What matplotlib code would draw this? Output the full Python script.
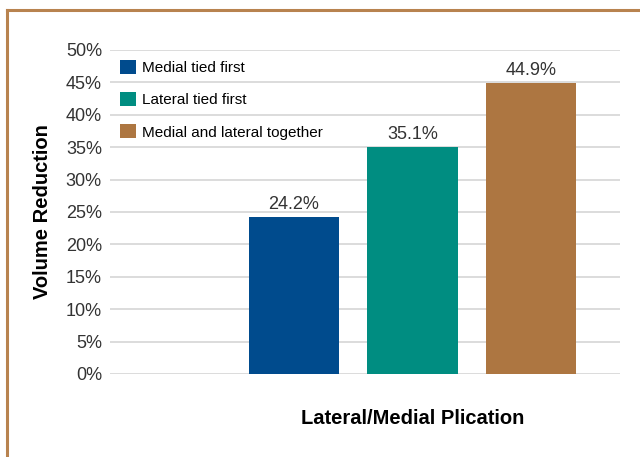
import matplotlib.pyplot as plt
from matplotlib.patches import Patch
from matplotlib.lines import Line2D

series = ['Medial tied first', 'Lateral tied first', 'Medial and lateral together']
values = [24.2, 35.1, 44.9]
colors = ['#004b8d', '#008d81', '#ad7641']
yticks = [0, 5, 10, 15, 20, 25, 30, 35, 40, 45, 50]

plt.rcParams['font.family'] = ['Liberation Sans', 'DejaVu Sans']

fig = plt.figure(figsize=(6.4, 4.57), dpi=100)
ax = fig.add_axes([110 / 640, 1 - 374 / 457, 510 / 640, 324 / 457])

pos = list(range(len(values)))
bars = ax.bar(pos, values, width=0.76, color=colors, zorder=3)
for x, v in zip(pos, values):
    ax.text(x, v + 0.6, f'{v}%', ha='center', va='bottom', fontsize=13, color='#333333')

ax.set_ylim(0, 50)
ax.set_xlim(-1.553, 2.751)
ax.set_yticks(yticks)
ax.set_yticklabels([f'{t}%' for t in yticks], fontsize=13, color='#333333')
ax.set_xticks([])
ax.tick_params(axis='y', length=0, pad=5.8)
ax.grid(axis='y', color='#d9d9d9', linewidth=1.3, zorder=0)
for s in ax.spines.values():
    s.set_visible(False)

ax.set_ylabel('Volume Reduction', fontsize=14.5, fontweight='bold')
ax.yaxis.set_label_coords(-0.114, 0.5)
ax.text(1, -0.137, 'Lateral/Medial Plication', transform=ax.get_xaxis_transform(),
        ha='center', va='center', fontsize=14.5, fontweight='bold')

handles = [Patch(facecolor=c) for c in colors]
fig.legend(handles, series, loc='upper left', bbox_to_anchor=(120 / 640, 1 - 60 / 457),
           frameon=False, fontsize=11, handlelength=1.05, handleheight=1.05,
           labelspacing=1.1, handletextpad=0.4, borderpad=0, borderaxespad=0)

# page border (top and left edges)
fig.add_artist(Line2D([7 / 640, 1], [1 - 10 / 457, 1 - 10 / 457], color='#b8834f', linewidth=2.2))
fig.add_artist(Line2D([7 / 640, 7 / 640], [0, 1 - 10 / 457], color='#b8834f', linewidth=2.2))

fig.savefig('out.png', dpi=100)
